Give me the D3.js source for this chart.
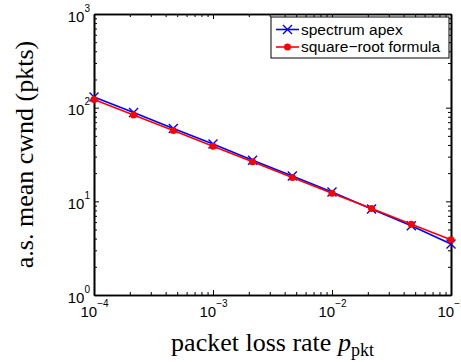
<!DOCTYPE html>
<html>
<head>
<meta charset="utf-8">
<script src="https://cdn.jsdelivr.net/npm/d3@7"></script>
<style>
  body { margin: 0; background: #fff; }
  svg { display: block; }
  .tick text { font-family: "Liberation Sans", Arial, sans-serif; }
</style>
</head>
<body>
<svg id="chart" width="461" height="362"></svg>
<script>
// packet loss rates (x), one point per third of a decade
var lossRates = [1e-4, 2.15e-4, 4.64e-4, 1e-3, 2.15e-3, 4.64e-3, 1e-2, 2.15e-2, 4.64e-2, 1e-1];
// series
var apexCwnd = [130, 89, 60, 41, 27.5, 18.6, 12.6, 8.3, 5.5, 3.5];
var sqrtCwnd = [122.5, 83.5, 56.9, 38.7, 26.4, 18.0, 12.2, 8.4, 5.7, 3.9];
var seriesNames = ["spectrum apex", "square\u2212root formula"];
var xTickExp = [-4, -3, -2, -1];
var yTickExp = [0, 1, 2, 3];

var svg = d3.select("#chart");
// note: "top" is taken by window.top, so use plot* names
var plotLeft = 94, plotRight = 451, plotTop = 14, plotBottom = 295;

var x = d3.scaleLog().domain([1e-4, 1e-1]).range([plotLeft, plotRight]);
var y = d3.scaleLog().domain([1, 1000]).range([plotBottom, plotTop]);

// minor tick values: 2..9 times each power of ten
function minors(lo, hi) {
    var out = [];
    for (var e = lo; e < hi; e++) {
        for (var m = 2; m <= 9; m++) out.push(m * Math.pow(10, e));
    }
    return out;
}
var xMinor = minors(-4, -1), yMinor = minors(0, 3);
var xMajor = xTickExp.map(function(e) { return Math.pow(10, e); });
var yMajor = yTickExp.map(function(e) { return Math.pow(10, e); });

//////////// AXES ////////////
function drawAxis(axisFn, scale, values, size, transform) {
    var g = svg.append("g")
        .attr("transform", transform)
        .call(axisFn(scale).tickValues(values).tickSizeInner(-size).tickSizeOuter(0).tickFormat(""));
    g.selectAll("line").attr("stroke", "#000").attr("stroke-width", 1);
    g.select(".domain").attr("stroke", "#000").attr("stroke-width", 1.6);
    return g;
}
// minor ticks first, majors on top
drawAxis(d3.axisBottom, x, xMinor, 3, "translate(0," + plotBottom + ")");
drawAxis(d3.axisTop, x, xMinor, 3, "translate(0," + plotTop + ")");
drawAxis(d3.axisLeft, y, yMinor, 3, "translate(" + plotLeft + ",0)");
drawAxis(d3.axisRight, y, yMinor, 3, "translate(" + plotRight + ",0)");
var xAxis = drawAxis(d3.axisBottom, x, xMajor, 5, "translate(0," + plotBottom + ")");
drawAxis(d3.axisTop, x, xMajor, 5, "translate(0," + plotTop + ")");
var yAxis = drawAxis(d3.axisLeft, y, yMajor, 5, "translate(" + plotLeft + ",0)");
drawAxis(d3.axisRight, y, yMajor, 5, "translate(" + plotRight + ",0)");

// power-of-ten labels with superscripts
xAxis.selectAll(".tick").each(function(d, i) {
    var t = d3.select(this).select("text")
        .attr("y", 22).attr("dy", null)
        .attr("text-anchor", "middle")
        .attr("font-size", 15).attr("fill", "#000");
    t.append("tspan").text("10");
    t.append("tspan").attr("font-size", 10).attr("dy", -10)
        .text(xTickExp[i] < 0 ? "\u2212" + (-xTickExp[i]) : xTickExp[i]);
});
yAxis.selectAll(".tick").each(function(d, i) {
    var t = d3.select(this).select("text")
        .attr("x", -4).attr("dy", null).attr("y", 7)
        .attr("text-anchor", "end")
        .attr("font-size", 15).attr("fill", "#000");
    t.append("tspan").text("10");
    t.append("tspan").attr("font-size", 10).attr("dy", -10).text(yTickExp[i]);
});

//////////// SERIES ////////////
var line = d3.line()
    .x(function(d) { return x(d[0]); })
    .y(function(d) { return y(d[1]); });

var apexPts = d3.zip(lossRates, apexCwnd);
var sqrtPts = d3.zip(lossRates, sqrtCwnd);

function crossPath(cx, cy, s) {
    return "M" + (cx - s) + "," + (cy - s) + "L" + (cx + s) + "," + (cy + s) +
           "M" + (cx - s) + "," + (cy + s) + "L" + (cx + s) + "," + (cy - s);
}

svg.append("path").datum(apexPts)
    .attr("d", line).attr("fill", "none")
    .attr("stroke", "#0000ff").attr("stroke-width", 1.6);
svg.append("g").selectAll("path").data(apexPts).enter().append("path")
    .attr("d", function(d) { return crossPath(x(d[0]), y(d[1]), 4.5); })
    .attr("stroke", "#0000ff").attr("stroke-width", 1.4).attr("fill", "none");

svg.append("path").datum(sqrtPts)
    .attr("d", line).attr("fill", "none")
    .attr("stroke", "#ff0000").attr("stroke-width", 1.6);
svg.append("g").selectAll("circle").data(sqrtPts).enter().append("circle")
    .attr("cx", function(d) { return x(d[0]); })
    .attr("cy", function(d) { return y(d[1]); })
    .attr("r", 3.5).attr("fill", "#ff0000");

//////////// LEGEND ////////////
var legend = svg.append("g");
legend.append("rect")
    .attr("x", 271).attr("y", 17).attr("width", 178).attr("height", 41)
    .attr("fill", "#fff").attr("stroke", "#000").attr("stroke-width", 1);

var rows = [29.5, 47];
legend.append("line").attr("x1", 276).attr("x2", 299).attr("y1", rows[0]).attr("y2", rows[0])
    .attr("stroke", "#0000ff").attr("stroke-width", 1.6);
legend.append("path").attr("d", crossPath(287.5, rows[0], 4.5))
    .attr("stroke", "#0000ff").attr("stroke-width", 1.4);
legend.append("line").attr("x1", 276).attr("x2", 299).attr("y1", rows[1]).attr("y2", rows[1])
    .attr("stroke", "#ff0000").attr("stroke-width", 1.6);
legend.append("circle").attr("cx", 287.5).attr("cy", rows[1]).attr("r", 3.5).attr("fill", "#ff0000");

legend.selectAll("text.lab").data(seriesNames).enter().append("text")
    .attr("class", "lab")
    .attr("x", 301)
    .attr("y", function(d, i) { return rows[i] + 5; })
    .attr("font-family", "'Liberation Sans', Arial, sans-serif")
    .attr("font-size", 15.5)
    .text(function(d) { return d; });

//////////// AXIS TITLES ////////////
svg.append("text")
    .attr("transform", "translate(33," + ((plotTop + plotBottom) / 2) + ") rotate(-90)")
    .attr("text-anchor", "middle")
    .attr("font-family", "'Liberation Serif', 'Times New Roman', serif")
    .attr("font-size", 26)
    .text("a.s. mean cwnd (pkts)");

var xt = svg.append("text")
    .attr("x", (plotLeft + plotRight) / 2).attr("y", 351)
    .attr("text-anchor", "middle")
    .attr("font-family", "'Liberation Serif', 'Times New Roman', serif")
    .attr("font-size", 26);
xt.append("tspan").text("packet loss rate ");
xt.append("tspan").attr("font-style", "italic").text("p");
xt.append("tspan").attr("font-size", 18).attr("dy", 5).text("pkt");
</script>
</body>
</html>
